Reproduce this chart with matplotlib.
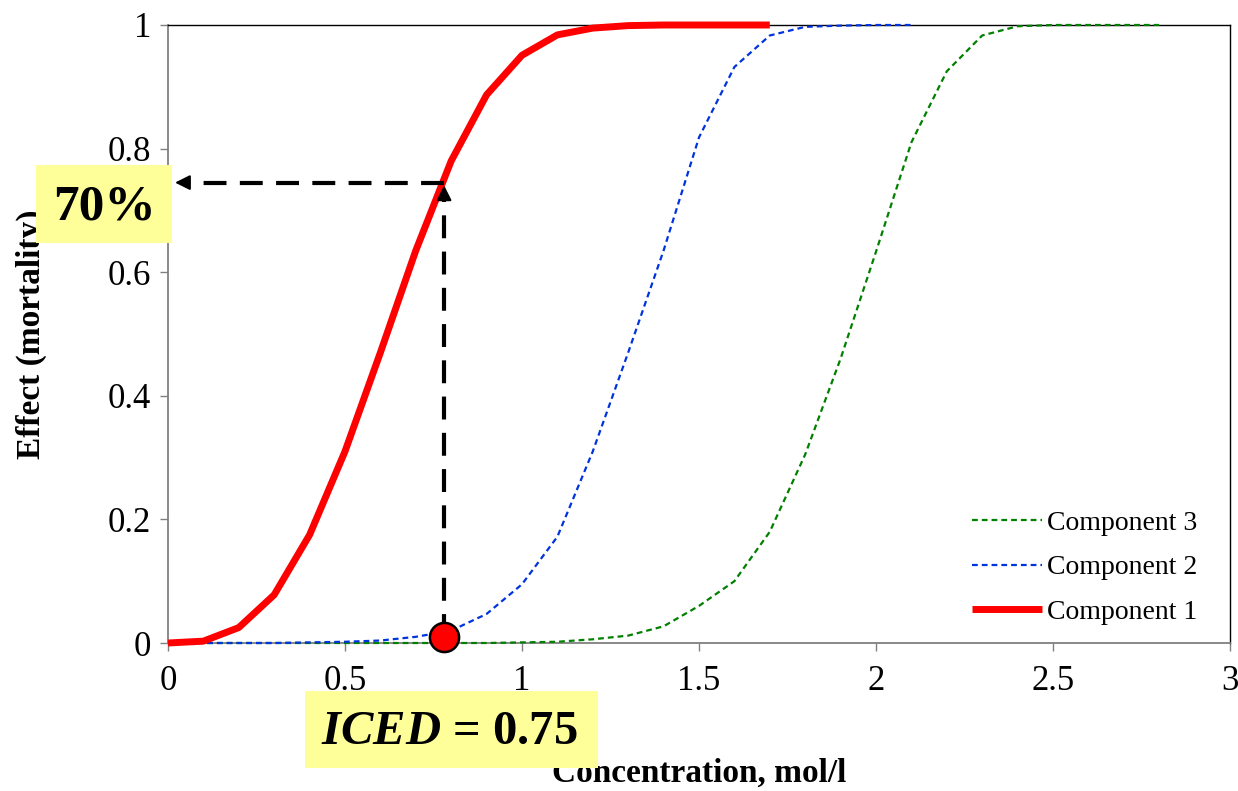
import matplotlib
matplotlib.use("Agg")
import matplotlib.pyplot as plt
from matplotlib.patches import Rectangle

plt.rcParams['font.family'] = ['Liberation Serif', 'DejaVu Serif']
plt.rcParams['mathtext.fontset'] = 'custom'
plt.rcParams['mathtext.rm'] = 'Liberation Serif'
plt.rcParams['mathtext.it'] = 'Liberation Serif:italic'
plt.rcParams['mathtext.bf'] = 'Liberation Serif:bold'
plt.rcParams['mathtext.bfit'] = 'Liberation Serif:italic:bold'

# ---- data ----
x_comp1 = [0.0, 0.1, 0.2, 0.3, 0.4, 0.5, 0.6, 0.7, 0.8, 0.9, 1.0, 1.1, 1.2, 1.3, 1.4, 1.5, 1.6, 1.7]
y_comp1 = [0.0, 0.003, 0.025, 0.078, 0.175, 0.31, 0.47, 0.635, 0.78, 0.887, 0.951, 0.984, 0.995, 0.999, 1.0, 1.0, 1.0, 1.0]

x_comp2 = [0.0, 0.1, 0.2, 0.3, 0.4, 0.5, 0.6, 0.7, 0.8, 0.9, 1.0, 1.1, 1.2, 1.3, 1.4, 1.5, 1.6, 1.7, 1.8, 1.9, 2.0, 2.1]
y_comp2 = [0.0, 0.0, 0.0, 0.0, 0.001, 0.002, 0.004, 0.01, 0.02, 0.047, 0.095, 0.172, 0.31, 0.47, 0.635, 0.818, 0.932, 0.983, 0.997, 0.999, 1.0, 1.0]

x_comp3 = [0.0, 0.1, 0.2, 0.3, 0.4, 0.5, 0.6, 0.7, 0.8, 0.9, 1.0, 1.1, 1.2, 1.3, 1.4, 1.5, 1.6, 1.7, 1.8, 1.9, 2.0, 2.1, 2.2, 2.3, 2.4, 2.5, 2.6, 2.7, 2.8]
y_comp3 = [0.0, 0.0, 0.0, 0.0, 0.0, 0.0, 0.0, 0.0, 0.0, 0.0, 0.001, 0.002, 0.006, 0.012, 0.027, 0.06, 0.10, 0.18, 0.305, 0.46, 0.633, 0.81, 0.925, 0.983, 0.998, 1.0, 1.0, 1.0, 1.0]

labels = ["Component 1", "Component 2", "Component 3"]
x_ticks = [0, 0.5, 1, 1.5, 2, 2.5, 3]
x_ticklabels = ["0", "0.5", "1", "1.5", "2", "2.5", "3"]
y_ticks = [0, 0.2, 0.4, 0.6, 0.8, 1.0]
y_ticklabels = ["0", "0.2", "0.4", "0.6", "0.8", "1"]

iced_x = 0.78
iced_y0 = 0.01
effect_level = 0.745
iced_text = r"$\mathbfit{ICED}$ = 0.75"
pct_text = "70%"

# ---- figure ----
fig = plt.figure(figsize=(12.38, 7.91), dpi=100)
ax = fig.add_axes([0.1357, 0.1871, 0.8578, 0.7813])

l3, = ax.plot(x_comp3, y_comp3, color='#008000', lw=1.6, dashes=(2.6, 1.8), clip_on=False, zorder=3)
l2, = ax.plot(x_comp2, y_comp2, color='#0033DD', lw=1.6, dashes=(2.6, 1.8), clip_on=False, zorder=3)
l1, = ax.plot(x_comp1, y_comp1, color='#FF0000', lw=5, solid_capstyle='butt', clip_on=False, zorder=4)

# dashed guide lines
ax.plot([iced_x, iced_x], [iced_y0, effect_level - 0.022], color='black', lw=3, dashes=(5.5, 3.2), zorder=5)
ax.plot([iced_x, 0.045], [effect_level, effect_level], color='black', lw=3, dashes=(5.5, 3.2), zorder=5)
ax.annotate('', xy=(iced_x, effect_level), xytext=(iced_x, effect_level - 0.03),
            arrowprops=dict(arrowstyle='-|>,head_length=0.9,head_width=0.45', color='black', lw=1.5),
            zorder=6)
ax.annotate('', xy=(0.012, effect_level), xytext=(0.06, effect_level),
            arrowprops=dict(arrowstyle='-|>,head_length=0.9,head_width=0.45', color='black', lw=1.5),
            zorder=6)
ax.plot([iced_x], [iced_y0], 'o', ms=21, mfc='#FF0000', mec='black', mew=1.8, zorder=7, clip_on=False)

ax.set_xlim(0, 3)
ax.set_ylim(0, 1)
ax.set_xticks(x_ticks)
ax.set_xticklabels(x_ticklabels)
ax.set_yticks(y_ticks)
ax.set_yticklabels(y_ticklabels)
ax.tick_params(axis='both', direction='out', length=6, width=1, color='#808080', labelsize=25, pad=6)
ax.tick_params(axis='x', pad=10)
for s in ['left', 'bottom']:
    ax.spines[s].set_color('#808080')
    ax.spines[s].set_linewidth(1.3)
for s in ['top', 'right']:
    ax.spines[s].set_color('black')
    ax.spines[s].set_linewidth(1.0)

ax.set_xlabel("Concentration, mol/l", fontsize=24, fontweight='bold', labelpad=43)
ax.set_ylabel("Effect (mortality)", fontsize=24, fontweight='bold', labelpad=44)

leg = ax.legend([l3, l2, l1], [labels[2], labels[1], labels[0]], loc='lower right',
                bbox_to_anchor=(0.993, -0.011), frameon=False, fontsize=20,
                handlelength=2.5, handletextpad=0.2, labelspacing=0.68)

# yellow label boxes (figure pixel coordinates)
W, H = 1238, 791
def box(x0, y0, x1, y1):
    r = Rectangle((x0 / W, 1 - y1 / H), (x1 - x0) / W, (y1 - y0) / H, transform=fig.transFigure,
                  facecolor='#FFFF99', edgecolor='none', zorder=10)
    fig.patches.append(r)

box(36, 165, 172, 243)
fig.text(104 / W, 1 - 208 / H, pct_text, ha='center', va='center', fontsize=37, fontweight='bold', zorder=11)
box(305, 691, 598, 768)
fig.text(449 / W, 1 - 732 / H, iced_text, ha='center', va='center', fontsize=35, fontweight='bold', zorder=11)

fig.savefig("out.png", dpi=100)
